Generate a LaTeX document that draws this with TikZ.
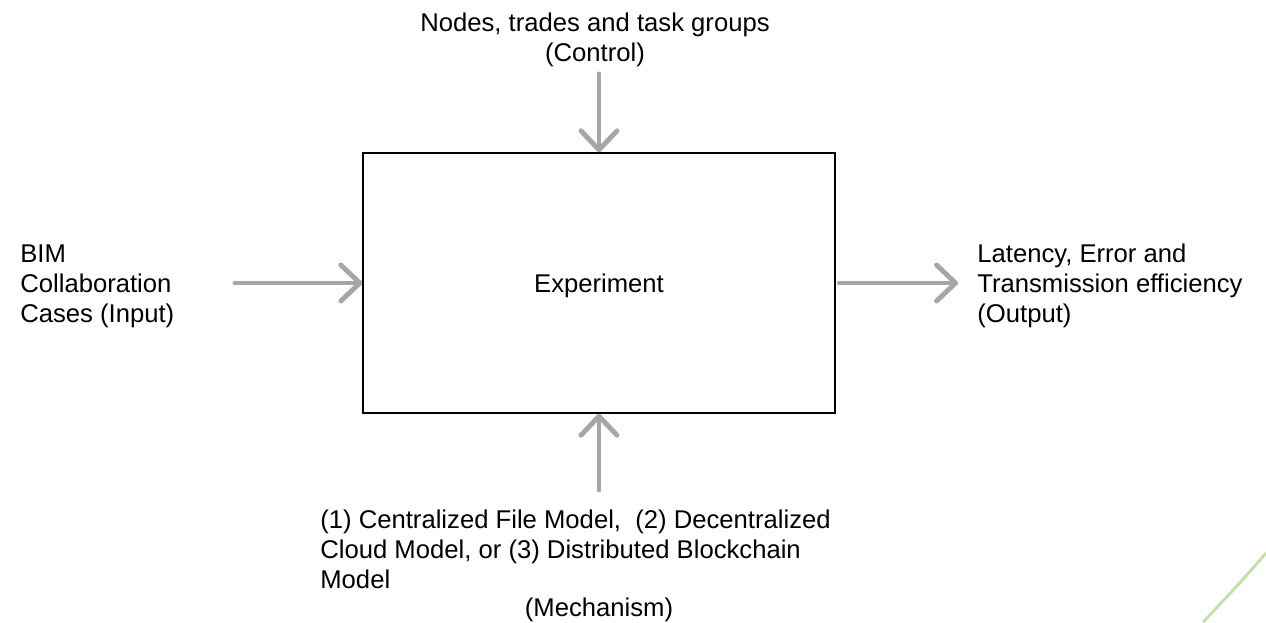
\documentclass[tikz,border=0pt]{standalone}
\usepackage{fontspec}
\setmainfont{Liberation Sans}
\usetikzlibrary{arrows.meta,positioning,calc}
\definecolor{arrowgray}{RGB}{166,166,166}
\definecolor{slidegreen}{RGB}{192,226,160}

\begin{document}
\begin{tikzpicture}[x=0.02cm, y=-0.02cm]
\tikzstyle{label}=[inner sep=0pt, font=\fontsize{14.6}{17.1}\selectfont]
\tikzstyle{process}=[rectangle, draw=black, line width=0.85pt, minimum width=9.44cm, minimum height=5.2cm, inner sep=0pt]
\tikzstyle{connect}=[draw=arrowgray, line width=2.8pt, line cap=round, -{Straight Barb[length=0.38cm, width=0.72cm, line cap=round, line join=round]}]

  \useasboundingbox (0,0) rectangle (1266,622);

  % box and its four labels
  \node[process] (exp) at (599,283) {};
  \node[label] (expname) at (599,286) {Experiment};

  \node[label, align=center] (control) at (595,40) {Nodes, trades and task groups\\(Control)};
  \node[label, align=left, anchor=west] (input) at (20,286) {BIM\\Collaboration\\Cases (Input)};
  \node[label, align=left, anchor=west] (output) at (977,286) {Latency, Error and\\Transmission efficiency\\(Output)};
  \node[label, align=left, anchor=west] (mech) at (320,549) {(1) Centralized File Model,\ \ (2) Decentralized\\Cloud Model, or (3) Distributed Blockchain\\Model};
  \node[label] (mechname) at (599,610) {(Mechanism)};

  % free ends of the arrows
  \coordinate (ctail) at (599,74);
  \coordinate (itail) at (235,283);
  \coordinate (otail) at (958,283);
  \coordinate (mtail) at (599,490);

  \draw[connect] (ctail) -- (exp.north);
  \draw[connect] (itail) -- (exp.west);
  \draw[connect, shorten <=2pt] (exp.east) -- (otail);
  \draw[connect] (mtail) -- (exp.south);

  % slide decoration
  \draw[slidegreen, line width=1.6pt] (1203,622) .. controls (1228,596) and (1248,574) .. (1266,553);

\end{tikzpicture}
\end{document}
